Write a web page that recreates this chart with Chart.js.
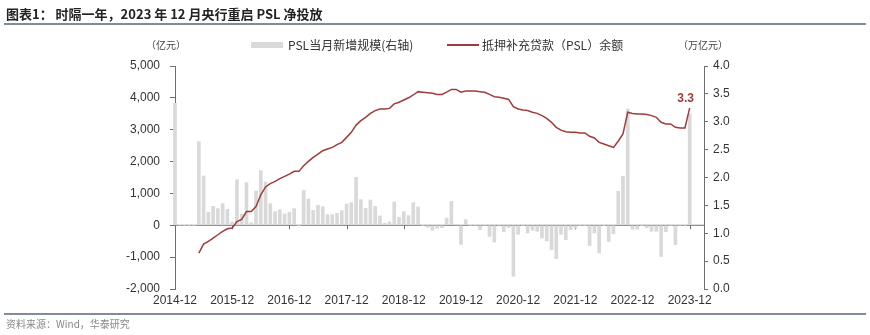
<!DOCTYPE html>
<html>
<head>
<meta charset="utf-8">
<script src="https://cdn.jsdelivr.net/npm/chart.js@4/dist/chart.umd.min.js"></script>
<style>
  body { margin: 0; background: #fff; }
  #wrap { position: relative; width: 870px; height: 335px; font-family: "Noto Sans CJK SC", "Liberation Sans", sans-serif; }
  #wrap div { position: absolute; white-space: nowrap; }
  .titre { left: 6px; top: 5px; font-size: 13px; font-weight: bold; color: #222; line-height: 18px; }
  .trait { left: 4px; width: 862px; height: 1.5px; background: #7f8c9e; }
  .unite { top: 37px; font-size: 10px; color: #444; line-height: 16px; }
  .leg { top: 37px; font-size: 12px; color: #333; line-height: 16px; }
  .source { left: 6px; top: 317px; font-size: 10px; color: #888; line-height: 14px; }
</style>
</head>
<body>
<div id="wrap">
  <canvas id="graphique-psl" width="870" height="335"></canvas>
  <div class="titre">图表1： 时隔一年，2023 年 12 月央行重启 PSL 净投放</div>
  <div class="trait" style="top:23px"></div>
  <div class="unite" style="left:146px">（亿元）</div>
  <div class="unite" style="left:678px">（万亿元）</div>
  <div style="left:251px; top:42px; width:32px; height:6px; background:#d9d9d9"></div>
  <div class="leg" style="left:288px">PSL当月新增规模(右轴)</div>
  <div style="left:447px; top:44px; width:32px; height:2px; background:#a33a3a"></div>
  <div class="leg" style="left:482px">抵押补充贷款（PSL）余额</div>
  <div class="trait" style="top:313px"></div>
  <div class="source">资料来源：Wind，华泰研究</div>
</div>
<script>
// mois de 2014-12 à 2024-03
const debut = [2014, 12];
const nbMois = 112;
const mois = [];
for (let i = 0; i < nbMois; i++) {
  const m = debut[1] - 1 + i;
  const annee = debut[0] + Math.floor(m / 12);
  const mm = (m % 12) + 1;
  mois.push(annee + "-" + (mm < 10 ? "0" + mm : mm));
}

// PSL当月新增规模 (亿元), 2014-12 à 2023-12
const nouveauxPSL = [
  3831, 0, 0, 0, 0, 2625, 1547, 408, 596, 522, 680, 502, 101,
  1432, 350, 1338, 80, 1076, 1714, 1358, 680, 428, 491, 355, 408,
  522, 0, 1087, 825, 470, 627, 585, 334, 334, 376, 460, 669,
  711, 1505, 805, 533, 794, 596, 293, 63, 104, 731, 251, 428,
  303, 711, 575, 0, -63, -157, -94, -73, 225, 745, 10, -600,
  178, 0, 0, -136, 0, -350, -528, -20, -205, -70, -1599, -280,
  0, -240, -157, -190, -397, -490, -763, -1045, -280, -455, -136, -90,
  0, 0, -637, -240, -867, 0, -510, -265, 1066, 1536, 3647, -120,
  -120, 0, -80, -188, -188, -980, -200, 0, -610, 0, 0, 3500,
];

// 抵押补充贷款（PSL）余额 (万亿元), 2014-12 à 2023-12
const soldePSL = [
  null, null, null, null, null, 0.645, 0.806, 0.853, 0.914, 0.973, 1.032, 1.081, 1.093,
  1.21, 1.25, 1.39, 1.39, 1.48, 1.69, 1.83, 1.89, 1.93, 1.98, 2.02, 2.06,
  2.11, 2.11, 2.21, 2.29, 2.36, 2.42, 2.48, 2.51, 2.54, 2.59, 2.63, 2.72,
  2.81, 2.94, 3.02, 3.08, 3.15, 3.20, 3.23, 3.23, 3.24, 3.32, 3.35, 3.39,
  3.43, 3.48, 3.54, 3.53, 3.52, 3.51, 3.49, 3.49, 3.53, 3.58, 3.58, 3.53,
  3.55, 3.55, 3.55, 3.54, 3.53, 3.49, 3.45, 3.44, 3.42, 3.40, 3.27, 3.23,
  3.21, 3.20, 3.17, 3.15, 3.11, 3.06, 2.99, 2.90, 2.85, 2.82, 2.81, 2.81,
  2.80, 2.80, 2.74, 2.71, 2.63, 2.60, 2.57, 2.54, 2.65, 2.78, 3.17, 3.15,
  3.14, 3.14, 3.13, 3.11, 3.08, 2.99, 2.96, 2.96, 2.90, 2.89, 2.89, 3.25,
];

const etiquetteFin = "3.3";
const couleurLigne = "#a33a3a";
const couleurAxe = "#6e6e6e";
const policeAxe = { family: "Liberation Sans", size: 12 };

// ligne du zéro et petites graduations annuelles
const axeZero = {
  id: "axeZero",
  beforeDatasetsDraw(chart) {
    const ctx = chart.ctx;
    const x = chart.scales.x;
    const y0 = chart.scales.y.getPixelForValue(0);
    ctx.save();
    ctx.strokeStyle = couleurAxe;
    ctx.lineWidth = 1;
    ctx.beginPath();
    ctx.moveTo(chart.chartArea.left, y0);
    ctx.lineTo(chart.chartArea.right, y0);
    for (let i = 0; i < mois.length; i++) {
      if (mois[i].endsWith("-12") && i > 0) {
        const px = Math.round(x.getPixelForValue(i)) + 0.5;
        ctx.moveTo(px, y0);
        ctx.lineTo(px, y0 + 4);
      }
    }
    ctx.stroke();
    ctx.restore();
  },
  afterDatasetsDraw(chart) {
    const ctx = chart.ctx;
    const meta = chart.getDatasetMeta(1);
    const dernier = soldePSL.length - 1;
    const pt = meta.data[dernier];
    ctx.save();
    ctx.fillStyle = couleurLigne;
    ctx.font = "bold 12px 'Liberation Sans'";
    ctx.textAlign = "center";
    ctx.textBaseline = "bottom";
    ctx.fillText(etiquetteFin, pt.x - 4, pt.y - 3);
    ctx.restore();
  },
};

new Chart(document.querySelector("#graphique-psl"), {
  data: {
    labels: mois,
    datasets: [
      {
        type: "bar",
        label: "PSL当月新增规模(右轴)",
        data: nouveauxPSL,
        yAxisID: "y",
        backgroundColor: "#d9d9d9",
        barThickness: 3,
        clip: false,
        order: 2,
      },
      {
        type: "line",
        label: "抵押补充贷款（PSL）余额",
        data: soldePSL,
        yAxisID: "y1",
        borderColor: couleurLigne,
        borderWidth: 1.5,
        pointRadius: 0,
        tension: 0,
        order: 1,
      },
    ],
  },
  options: {
    responsive: false,
    animation: false,
    devicePixelRatio: 1,
    layout: { padding: { top: 66, left: 0, right: 0, bottom: 0 } },
    plugins: { legend: { display: false }, tooltip: { enabled: false } },
    scales: {
      x: {
        type: "category",
        offset: false,
        grid: { display: false, drawTicks: false },
        border: { display: false },
        ticks: {
          autoSkip: false,
          maxRotation: 0,
          padding: 4,
          color: "#333",
          font: policeAxe,
          callback: (v, i) => (mois[i].endsWith("-12") ? mois[i] : ""),
        },
        afterFit: (s) => { s.height = 46; },
      },
      y: {
        position: "left",
        min: -2000,
        max: 5000,
        grid: { drawOnChartArea: false, tickLength: 5, color: couleurAxe },
        border: { color: couleurAxe },
        ticks: {
          stepSize: 1000,
          padding: 10,
          color: "#333",
          font: policeAxe,
          callback: (v) => v.toLocaleString("en-US"),
        },
        afterFit: (s) => { s.width = 175; },
      },
      y1: {
        position: "right",
        min: 0,
        max: 4,
        grid: { drawOnChartArea: false, tickLength: 4, color: couleurAxe },
        border: { color: couleurAxe },
        ticks: {
          stepSize: 0.5,
          padding: 5,
          color: "#333",
          font: policeAxe,
          callback: (v) => v.toFixed(1),
        },
        afterFit: (s) => { s.width = 166; },
      },
    },
  },
  plugins: [axeZero],
});
</script>
</body>
</html>
